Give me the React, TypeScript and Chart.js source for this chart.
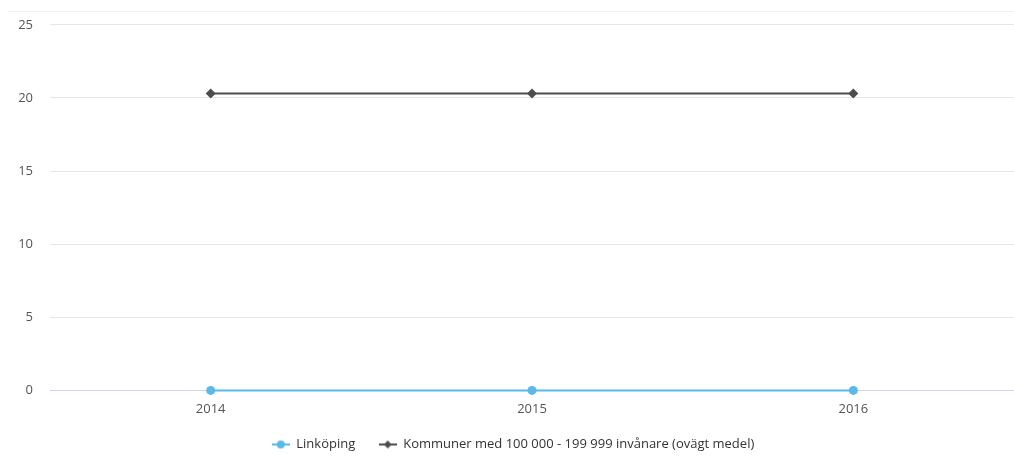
import React, { useEffect, useRef } from "react";
import { Chart, registerables } from "chart.js";

Chart.register(...registerables);

const categories: string[] = ["2014", "2015", "2016"];
const linkopingValues: number[] = [0, 0, 0];
const kommunerValues: number[] = [20.3, 20.3, 20.3];
const seriesNames: string[] = [
  "Linköping",
  "Kommuner med 100 000 - 199 999 invånare (ovägt medel)",
];
const yMin = 0;
const yMax = 25;
const yStep = 5;

const LINK_COLOR = "#5ab9ea";
const KOMM_COLOR = "#4d4d4d";
const FONT = "'Open Sans', sans-serif";
const FONT_SIZE = 13;

function legendIcon(color: string, style: "circle" | "diamond"): HTMLCanvasElement {
  const c = document.createElement("canvas");
  c.width = 18;
  c.height = 12;
  const ctx = c.getContext("2d")!;
  ctx.strokeStyle = color;
  ctx.lineWidth = 2;
  ctx.beginPath();
  ctx.moveTo(0, 6);
  ctx.lineTo(18, 6);
  ctx.stroke();
  ctx.fillStyle = color;
  ctx.beginPath();
  if (style === "circle") {
    ctx.arc(9, 6, 4, 0, Math.PI * 2);
  } else {
    ctx.moveTo(9, 2);
    ctx.lineTo(13, 6);
    ctx.lineTo(9, 10);
    ctx.lineTo(5, 6);
    ctx.closePath();
  }
  ctx.fill();
  return c;
}

const topLinePlugin = {
  id: "topLine",
  afterLayout(chart: any) {
    if (chart.legend) {
      chart.legend.left += 6;
      chart.legend.right += 6;
    }
  },
  beforeDraw(chart: any) {
    const ctx = chart.ctx;
    ctx.save();
    ctx.strokeStyle = "#f2f2f2";
    ctx.lineWidth = 1;
    ctx.beginPath();
    ctx.moveTo(8, 11.5);
    ctx.lineTo(chart.width, 11.5);
    ctx.stroke();
    ctx.restore();
  },
};

export default function App() {
  const ref = useRef<HTMLCanvasElement | null>(null);

  useEffect(() => {
    document.body.style.margin = "0";
    const icons = [legendIcon(LINK_COLOR, "circle"), legendIcon(KOMM_COLOR, "diamond")];
    const chart = new Chart(ref.current!, {
      type: "line",
      data: {
        labels: categories,
        datasets: [
          {
            label: seriesNames[0],
            data: linkopingValues,
            borderColor: LINK_COLOR,
            backgroundColor: LINK_COLOR,
            borderWidth: 2,
            pointStyle: "circle",
            pointRadius: 4.5,
            pointBorderWidth: 0,
            clip: false,
          },
          {
            label: seriesNames[1],
            data: kommunerValues,
            borderColor: KOMM_COLOR,
            backgroundColor: KOMM_COLOR,
            borderWidth: 2,
            pointStyle: "rectRot",
            pointRadius: 5,
            pointBorderWidth: 0,
            clip: false,
          },
        ],
      },
      options: {
        animation: false,
        responsive: false,
        maintainAspectRatio: false,
        layout: { autoPadding: false, padding: { top: 24, right: 0, left: 0, bottom: -5 } },
        font: { family: FONT, size: FONT_SIZE },
        plugins: {
          tooltip: { enabled: false },
          legend: {
            position: "bottom",
            labels: {
              usePointStyle: true,
              pointStyleWidth: 18,
              padding: 10,
              color: "#333333",
              font: { family: FONT, size: FONT_SIZE },
              generateLabels: (chart: any) =>
                chart.data.datasets.map((ds: any, i: number) => ({
                  text: i === 0 ? ds.label + "    " : ds.label,
                  pointStyle: icons[i],
                  fillStyle: ds.borderColor,
                  strokeStyle: ds.borderColor,
                  lineWidth: 0,
                  fontColor: "#333333",
                  hidden: false,
                  datasetIndex: i,
                })),
            },
          },
        },
        scales: {
          x: {
            offset: true,
            grid: { display: false, drawTicks: false },
            border: { display: true, color: "#ccd6eb", width: 1 },
            ticks: { padding: 11, color: "#555555", font: { family: FONT, size: FONT_SIZE } },
          },
          y: {
            min: yMin,
            max: yMax,
            border: { display: false },
            grid: {
              drawTicks: false,
              color: (c: any) => (c.tick && c.tick.value === 0 ? "rgba(0,0,0,0)" : "#e6e6e6"),
            },
            ticks: {
              stepSize: yStep,
              padding: 17,
              color: "#555555",
              font: { family: FONT, size: FONT_SIZE },
            },
            afterFit: (s: any) => {
              s.width = 50;
            },
          },
        },
      },
      plugins: [topLinePlugin],
    });
    return () => chart.destroy();
  }, []);

  return (
    <div style={{ width: 1014, height: 456 }}>
      <canvas ref={ref} width={1014} height={456} style={{ display: "block", width: 1014, height: 456 }} />
    </div>
  );
}
